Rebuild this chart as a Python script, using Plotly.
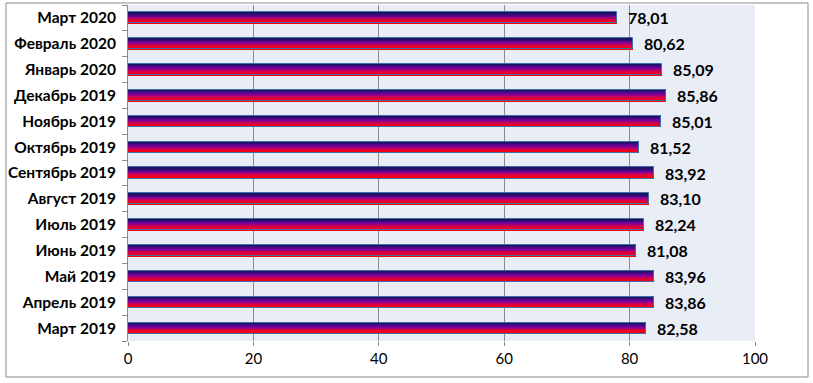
import plotly.graph_objects as go

categories = ["Март 2019", "Апрель 2019", "Май 2019", "Июнь 2019", "Июль 2019",
              "Август 2019", "Сентябрь 2019", "Октябрь 2019", "Ноябрь 2019",
              "Декабрь 2019", "Январь 2020", "Февраль 2020", "Март 2020"]
values = [82.58, 83.86, 83.96, 81.08, 82.24, 83.10, 83.92, 81.52, 85.01,
          85.86, 85.09, 80.62, 78.01]
x_ticks = [0, 20, 40, 60, 80, 100]

FONT = "Lato, 'Open Sans', sans-serif"

# gradient stops, bottom -> top
stops = [(255, 0, 0), (225, 0, 60), (120, 0, 160), (28, 18, 100)]
N = 12
BAR_W = 0.43
slice_w = BAR_W / N


def lerp_color(t):
    seg = t * (len(stops) - 1)
    i = min(int(seg), len(stops) - 2)
    f = seg - i
    c = [round(stops[i][k] + (stops[i + 1][k] - stops[i][k]) * f) for k in range(3)]
    return f"rgb({c[0]},{c[1]},{c[2]})"


fig = go.Figure()
for s in range(N):
    fig.add_trace(go.Bar(
        x=values, y=categories, orientation="h",
        width=slice_w, offset=-BAR_W / 2 + s * slice_w,
        marker=dict(color=lerp_color(s / (N - 1)), line=dict(width=0)),
        hoverinfo="skip", showlegend=False,
    ))
# outline
fig.add_trace(go.Bar(
    x=values, y=categories, orientation="h",
    width=BAR_W, offset=-BAR_W / 2,
    marker=dict(color="rgba(0,0,0,0)", line=dict(color="#3f6fa8", width=1)),
    showlegend=False,
))

for v, c in zip(values, categories):
    fig.add_annotation(
        x=v, y=c, text=f"{v:.2f}".replace(".", ","), showarrow=False,
        xanchor="left", xshift=9, yshift=0,
        font=dict(family=FONT, size=16, color="black", weight="bold"),
    )

fig.update_layout(
    width=813, height=383,
    margin=dict(l=128, r=58, t=5, b=42),
    paper_bgcolor="white", plot_bgcolor="#e9edf5",
    barmode="overlay", bargap=0,
    font=dict(family=FONT, color="black"),
    showlegend=False,
    shapes=[dict(type="rect", xref="paper", yref="paper",
                 x0=(6 - 128) / 627, x1=(808 - 128) / 627,
                 y0=-(377 - 341) / 336, y1=1 + 2 / 336,
                 line=dict(color="#8a8a8a", width=1), fillcolor="rgba(0,0,0,0)",
                 layer="below")],
)
fig.update_xaxes(
    range=[0, 100], tickvals=x_ticks, showgrid=True, gridcolor="#8a8a8a",
    gridwidth=1, zeroline=False, showline=False,
    ticks="outside", ticklen=4, tickcolor="#8a8a8a",
    tickfont=dict(family=FONT, size=15, color="black"),
)
fig.update_yaxes(
    type="category", categoryorder="array", categoryarray=categories,
    showgrid=False, showline=True, linecolor="#8a8a8a", linewidth=1,
    ticks="outside", ticklen=5, tickcolor="#8a8a8a", tickson="boundaries",
    ticklabelstandoff=8,
    tickfont=dict(family=FONT, size=15.5, color="black", weight="bold"),
)

fig.write_html("out.html", config={"displayModeBar": False},
               post_script="document.body.style.margin='0';")
